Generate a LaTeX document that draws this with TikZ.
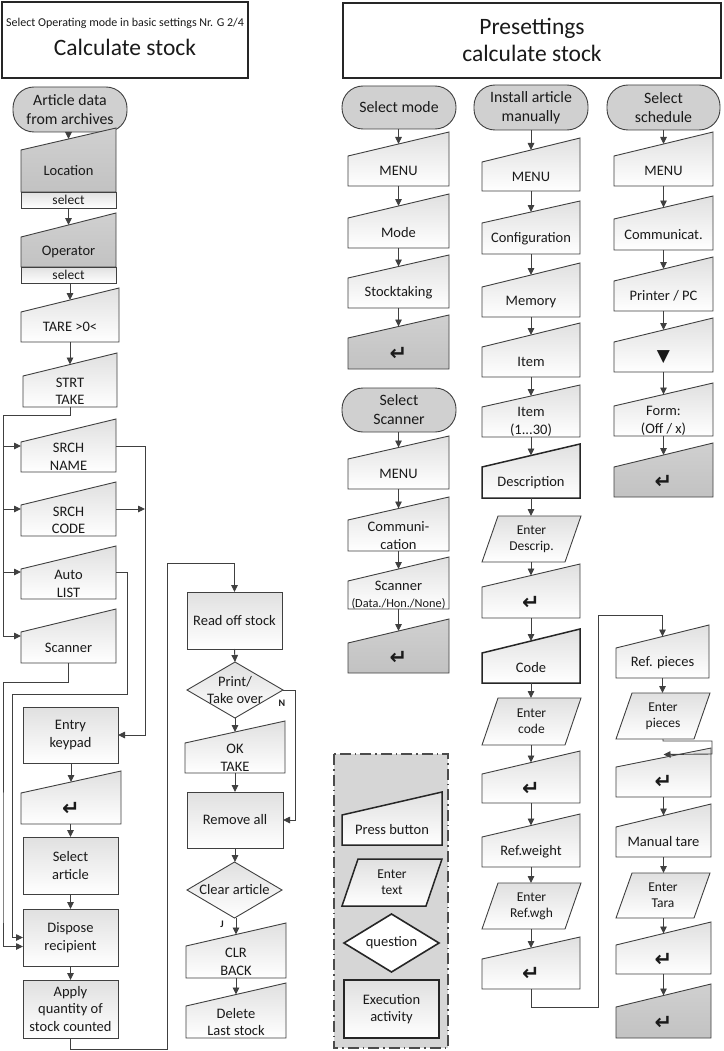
\documentclass[tikz,border=0pt]{standalone}
\usepackage{fontspec}
\setmainfont{Carlito}
\newfontfamily\symfont{DejaVu Sans}
\usetikzlibrary{arrows.meta,calc}
\definecolor{lc}{HTML}{404040}
\definecolor{lite}{HTML}{E0E0E0}
\definecolor{dark}{HTML}{C2C2C2}
\definecolor{darkb}{HTML}{D0D0D0}
\definecolor{termf}{HTML}{D0D0D0}
\definecolor{legf}{HTML}{D6D6D6}
\definecolor{txt}{HTML}{1A1A1A}
\newcommand\fsz[2]{\fontsize{#1}{#2}\selectfont}
\newcommand\retsym{{\symfont\bfseries\fsz{21}{21}↵}}
\newcommand\downsym{{\symfont\fsz{17}{17}▼}}
\tikzset{
  lt/.style={draw=lc, line width=0.9pt, bottom color=white, top color=lite},
  dk/.style={draw=lc, line width=0.9pt, bottom color=dark, top color=darkb},
  ltthick/.style={draw=black!85, line width=1.5pt, bottom color=white, top color=lite},
  wt/.style={draw=black!85, line width=1.6pt, fill=white},
  trm/.style={draw=lc, line width=0.9pt, fill=termf, rounded corners=21pt},
  body/.style={inner sep=0pt, outer sep=0pt, align=center, text=txt, font=\fsz{14.5}{17.5}},
  pbody/.style={body, font=\fsz{13.5}{16}},
  tbody/.style={body, font=\fsz{15.8}{19}},
  arr/.style={draw=lc, line width=0.9pt, -{Triangle[length=7pt,width=6.5pt]}},
  ln/.style={draw=lc, line width=0.9pt},
  lbl/.style={font=\bfseries\fsz{10}{10}, inner sep=0pt, text=txt},
}
% button (manual input): style, name, x1, x2, y right top, y left top, y bottom, text
\newcommand{\Btn}[8]{%
  \path[#1] (#3,#6) -- (#4,#5) -- (#4,#7) -- (#3,#7) -- cycle;
  \node[body, minimum width={#4-#3}, minimum height={#7-#6}] (#2) at ({(#3+#4)/2},{(#6+#7)/2}) {#8};
  \coordinate (#2-t) at ({(#3+#4)/2},{(#5+#6)/2});
}
% parallelogram: style, name, x1, x2, y top, y bottom, text
\newcommand{\Para}[7]{%
  \path[#1] (#3,#6) -- ({#3+16},#5) -- (#4,#5) -- ({#4-16},#6) -- cycle;
  \node[pbody, minimum width={#4-#3}, minimum height={#6-#5}] (#2) at ({(#3+#4)/2},{(#5+#6)/2}) {#7};
}
% diamond: style, name, x1, y1, x2, y2, text
\newcommand{\Dia}[7]{%
  \path[#1] ({(#3+#5)/2},#4) -- (#5,{(#4+#6)/2}) -- ({(#3+#5)/2},#6) -- (#3,{(#4+#6)/2}) -- cycle;
  \node[body, minimum width={#5-#3}, minimum height={#6-#4}] (#2) at ({(#3+#5)/2},{(#4+#6)/2}) {#7};
}
% rectangle: style, name, x1, y1, x2, y2, text
\newcommand{\Rect}[7]{%
  \path[#1] (#3,#4) rectangle (#5,#6);
  \node[body, minimum width={#5-#3}, minimum height={#6-#4}] (#2) at ({(#3+#5)/2},{(#4+#6)/2}) {#7};
}
% terminal: name, x1, y1, x2, y2, text
\newcommand{\Term}[6]{%
  \path[trm] (#2,#3) rectangle (#4,#5);
  \node[tbody, minimum width={#4-#2}, minimum height={#5-#3}] (#1) at ({(#2+#4)/2},{(#3+#5)/2}) {#6};
}
\begin{document}
\begin{tikzpicture}[x=1pt,y=-1pt]
\useasboundingbox[fill=white] (0,0) rectangle (723,1051);

% ---------- titles
\path[wt] (2,2) rectangle (248,78);
\node[body, font=\fsz{12}{12}] (t1a) at (125,23) {Select Operating mode in basic settings Nr. G 2/4};
\node[body, font=\fsz{23.5}{27}] (t1b) at (125,47) {Calculate stock};
\path[wt] (343,3) rectangle (721,78);
\node[body, font=\fsz{23.5}{27}] (t2) at (532,40) {Presettings\\calculate stock};

% ---------- left column
\Term{art}{13}{87}{127}{132}{Article data\\from archives}
\Btn{dk}{loc}{21}{116}{128}{150}{192}{Location}
\Rect{lt}{locs}{21}{192}{116}{208}{\fsz{13.5}{13.5}select}
\Btn{dk}{op}{21}{116}{213}{237}{267}{Operator}
\Rect{lt}{ops}{21}{267}{116}{283}{\fsz{13.5}{13.5}select}
\Btn{lt}{tare}{21}{119}{288}{312}{342}{TARE >0<}
\Btn{lt}{strt}{23}{117}{353}{376}{407}{STRT\\TAKE}
\Btn{lt}{sn}{21}{116}{419}{442}{472}{SRCH\\NAME}
\Btn{lt}{sc}{21}{116}{482}{505}{536}{SRCH\\CODE}
\Btn{lt}{al}{21}{116}{546}{569}{599}{Auto\\LIST}
\Btn{lt}{scn}{21}{116}{609}{632}{663}{Scanner}
\Rect{lt}{ek}{23}{707}{118}{763}{Entry\\keypad}
\Btn{lt}{rl}{21}{121}{771}{793}{824}{\retsym}
\Rect{lt}{sa}{23}{837}{118}{894}{Select\\article}
\Rect{lt}{dr}{23}{909}{118}{966}{Dispose\\recipient}
\Rect{lt}{aq}{23}{980}{118}{1038}{Apply\\quantity of\\stock counted}

\draw[arr] (loc-t |- art.south) -- (loc-t);
\draw[arr] (op-t |- locs.south) -- (op-t);
\draw[arr] (tare-t |- ops.south) -- (tare-t);
\draw[arr] (strt-t |- tare.south) -- (strt-t);
\coordinate (busL) at (3,415);
\coordinate (snin) at ([yshift=-4pt]sn.north west);
\coordinate (scin) at ([yshift=-4pt]sc.north west);
\coordinate (alin) at ([yshift=-3pt]al.north west);
\coordinate (scnin) at ([yshift=-4pt]scn.north west);
\draw[ln] (strt.south) -- (strt.south |- busL) -- (busL) -- (busL |- scnin);
\draw[arr] (busL |- snin) -- (snin);
\draw[arr] (busL |- scin) -- (scin);
\draw[arr] (busL |- alin) -- (alin);
\draw[arr] (busL |- scnin) -- (scnin);
\coordinate (snout) at ([yshift=-4pt]sn.north east);
\coordinate (scout) at ([yshift=-4pt]sc.north east);
\coordinate (alout) at ([yshift=-3pt]al.north east);
\coordinate (busR) at (145,446);
\draw[arr] (snout) -- (busR) |- (ek.east);
\draw[arr] (scout) -- (busR |- scout);
\draw[arr] (alout) -- (127,572) -- (127,694) -- (12,694) |- (dr.west);
\draw[arr] (scn.south) -- ++(0,19) -| (3,900) |- ([yshift=-9pt]dr.west);
\draw[arr] (rl-t |- ek.south) -- (rl-t);
\draw[arr] (sa.north |- rl.south) -- (sa.north);
\draw[arr] (sa.south) -- (dr.north);
\draw[arr] (dr.south) -- (aq.north);

% ---------- middle column
\Rect{lt}{ros}{187}{592}{282}{649}{Read off stock}
\Dia{lt}{pt}{187}{662}{283}{718}{Print/\\Take over}
\Btn{lt}{ok}{185}{285}{721}{743}{773}{OK\\TAKE}
\Rect{lt}{ra}{187}{792}{283}{848}{Remove all}
\Dia{lt}{ca}{187}{862}{282}{918}{Clear article}
\Btn{lt}{clr}{186}{286}{923}{946}{978}{CLR\\BACK}
\Btn{lt}{del}{186}{286}{983}{1006}{1038}{Delete\\Last stock}

\draw[arr] (aq.south) -- ++(0,11) -| (167,563) -| (ros.north);
\draw[arr] (ros.south) -- (pt.north);
\draw[arr] (pt.south) -- (pt.south |- ok-t);
\draw[arr] (pt.east) -- ++(12,0) |- (ra.east);
\node[lbl] (lN) at (282,703) {N};
\draw[arr] (ok.south) -- (ok.south |- ra.north);
\draw[arr] (ra.south) -- (ra.south |- ca.north);
\draw[arr] (clr-t |- ca.south) -- (clr-t);
\node[lbl] (lJ) at (222,924) {J};
\draw[arr] (clr.south) -- (del-t);

% ---------- legend
\path[draw=black!70, line width=1.8pt, dash pattern=on 11pt off 4pt on 1.5pt off 4pt, fill=legf] (334,754) rectangle (448,1048);
\Btn{ltthick}{lpb}{342}{442}{792}{815}{845}{Press button}
\Para{ltthick}{let}{342}{442}{859}{906}{Enter\\text}
\Dia{wt}{lq}{344}{914}{439}{972}{question}
\Rect{ltthick}{lea}{344}{980}{439}{1038}{Execution\\activity}

% ---------- column A
\Term{sm}{342}{86}{456}{129}{Select mode}
\Btn{lt}{a1}{348}{449}{132}{156}{186}{MENU}
\Btn{lt}{a2}{348}{449}{194}{218}{248}{Mode}
\Btn{lt}{a3}{348}{449}{255}{278}{308}{Stocktaking}
\Btn{dk}{a4}{348}{449}{315}{338}{369}{\retsym}
\Term{ss}{342}{388}{456}{432}{Select\\Scanner}
\Btn{lt}{a5}{348}{449}{436}{459}{489}{MENU}
\Btn{lt}{a6}{348}{449}{497}{520}{551}{Communi-\\cation}
\Btn{lt}{a7}{348}{449}{557}{581}{609}{Scanner\\{\fsz{12.3}{13}(Data./Hon./None)}}
\Btn{dk}{a8}{348}{449}{619}{643}{673}{\retsym}
\draw[arr] (a1-t |- sm.south) -- (a1-t);
\draw[arr] (a1.south) -- (a2-t);
\draw[arr] (a2.south) -- (a3-t);
\draw[arr] (a3.south) -- (a4-t);
\draw[arr] (a5-t |- ss.south) -- (a5-t);
\draw[arr] (a5.south) -- (a6-t);
\draw[arr] (a6.south) -- (a7-t);
\draw[arr] (a7.south) -- (a8-t);

% ---------- column B
\Term{ia}{474}{85}{588}{130}{Install article\\manually}
\Btn{lt}{b1}{482}{580}{138}{162}{191}{MENU}
\Btn{lt}{b2}{482}{580}{201}{223}{254}{Configuration}
\Btn{lt}{b3}{482}{580}{263}{287}{317}{Memory}
\Btn{lt}{b4}{482}{580}{323}{347}{377}{Item}
\Btn{lt}{b5}{482}{580}{385}{407}{437}{Item\\(1...30)}
\Btn{ltthick}{b6}{482}{580}{444}{467}{498}{Description}
\Para{lt}{b7}{482}{581}{516}{562}{Enter\\Descrip.}
\Btn{lt}{b8}{482}{580}{564}{587}{618}{\retsym}
\Btn{ltthick}{b9}{482}{580}{629}{653}{683}{Code}
\Para{lt}{b10}{482}{581}{698}{745}{Enter\\code}
\Btn{lt}{b11}{482}{580}{751}{774}{803}{\retsym}
\Btn{lt}{b12}{482}{580}{814}{837}{867}{Ref.weight}
\Para{lt}{b13}{482}{581}{883}{929}{Enter\\Ref.wgh}
\Btn{lt}{b14}{482}{580}{937}{959}{989}{\retsym}
\draw[arr] (b1-t |- ia.south) -- (b1-t);
\draw[arr] (b1.south) -- (b2-t);
\draw[arr] (b2.south) -- (b3-t);
\draw[arr] (b3.south) -- (b4-t);
\draw[arr] (b4.south) -- (b5-t);
\draw[arr] (b5.south) -- (b6-t);
\draw[arr] (b6.south) -- (b6.south |- b7.north);
\draw[arr] (b8-t |- b7.south) -- (b8-t);
\draw[arr] (b8.south) -- (b9-t);
\draw[arr] (b9.south) -- (b9.south |- b10.north);
\draw[arr] (b11-t |- b10.south) -- (b11-t);
\draw[arr] (b11.south) -- (b12-t);
\draw[arr] (b12.south) -- (b12.south |- b13.north);
\draw[arr] (b14-t |- b13.south) -- (b14-t);

% ---------- column C
\Term{sch}{607}{85}{720}{130}{Select\\schedule}
\Btn{lt}{c1}{614}{713}{132}{156}{186}{MENU}
\Btn{lt}{c2}{614}{713}{196}{219}{250}{Communicat.}
\Btn{lt}{c3}{614}{713}{257}{281}{311}{Printer / PC}
\Btn{lt}{c4}{614}{713}{318}{342}{372}{\downsym}
\Btn{lt}{c5}{614}{713}{383}{406}{436}{Form:\\(Off / x)}
\Btn{dk}{c6}{614}{713}{443}{467}{497}{\retsym}
\draw[arr] (c1-t |- sch.south) -- (c1-t);
\draw[arr] (c1.south) -- (c2-t);
\draw[arr] (c2.south) -- (c3-t);
\draw[arr] (c3.south) -- (c4-t);
\draw[arr] (c4.south) -- (c5-t);
\draw[arr] (c5.south) -- (c6-t);

\Btn{lt}{c7}{616}{709}{625}{648}{678}{Ref. pieces}
\Para{lt}{c8}{616}{710}{693}{739}{Enter\\pieces}
\Btn{lt}{c9}{616}{711}{748}{767}{797}{\retsym}
\Btn{lt}{c10}{616}{711}{804}{827}{857}{Manual tare}
\Para{lt}{c11}{616}{710}{873}{918}{Enter\\Tara}
\Btn{lt}{c12}{616}{711}{922}{945}{974}{\retsym}
\Btn{dk}{c13}{616}{711}{984}{1007}{1038}{\retsym}
\draw[arr] (b14.south) -- ++(0,18) -| (598,615) -| (c7-t);
\draw[arr] (c7.south) -- (c7.south |- c8.north);
\coordinate (c9in) at ([yshift=3pt]c9-t);
\draw[arr] (c8.south) -- ++(0,2) -| (712,754) -- (c9in);
\draw[arr] (c9.south) -- (c10-t);
\draw[arr] (c10.south) -- (c10.south |- c11.north);
\draw[arr] (c12-t |- c11.south) -- (c12-t);
\draw[arr] (c12.south) -- (c13-t);
\end{tikzpicture}
\end{document}
